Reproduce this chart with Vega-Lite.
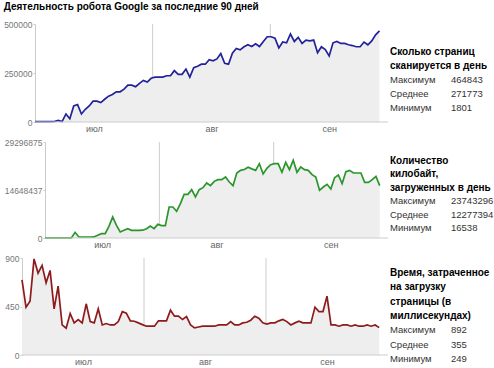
{
  "$schema": "https://vega.github.io/schema/vega-lite/v6.json",
  "background": "white",
  "padding": {"left": 3, "top": 2, "right": 0, "bottom": 0},
  "title": {"text": "Деятельность робота Google за последние 90 дней", "anchor": "start", "fontSize": 10, "fontWeight": "bold", "font": "Liberation Sans", "color": "#000000", "offset": 8},
  "config": {"view": {"stroke": null}, "font": "Liberation Sans"},
  "spacing": {"row": 5, "column": 1},
  "columns": 2,
  "datasets": {
    "crawl": [
      {"day":0,"pages":2400,"kb":16538,"ms":698},
      {"day":1,"pages":2100,"kb":20000,"ms":444},
      {"day":2,"pages":1900,"kb":18000,"ms":500},
      {"day":3,"pages":2200,"kb":22000,"ms":892},
      {"day":4,"pages":1801,"kb":19000,"ms":760},
      {"day":5,"pages":2600,"kb":25000,"ms":832},
      {"day":6,"pages":8000,"kb":21000,"ms":670},
      {"day":7,"pages":2300,"kb":24000,"ms":785},
      {"day":8,"pages":41000,"kb":1729000,"ms":428},
      {"day":9,"pages":17000,"kb":305000,"ms":639},
      {"day":10,"pages":82000,"kb":300000,"ms":279},
      {"day":11,"pages":89000,"kb":310000,"ms":249},
      {"day":12,"pages":41000,"kb":305000,"ms":385},
      {"day":13,"pages":65000,"kb":320000,"ms":298},
      {"day":14,"pages":82000,"kb":814000,"ms":329},
      {"day":15,"pages":106000,"kb":1322000,"ms":298},
      {"day":16,"pages":106000,"kb":1322000,"ms":475},
      {"day":17,"pages":99000,"kb":3560000,"ms":310},
      {"day":18,"pages":116000,"kb":6408000,"ms":298},
      {"day":19,"pages":132000,"kb":3865000,"ms":428},
      {"day":20,"pages":140000,"kb":1831000,"ms":279},
      {"day":21,"pages":154000,"kb":2340000,"ms":292},
      {"day":22,"pages":154000,"kb":2848000,"ms":279},
      {"day":23,"pages":168000,"kb":2340000,"ms":279},
      {"day":24,"pages":188000,"kb":2340000,"ms":310},
      {"day":25,"pages":188000,"kb":2340000,"ms":403},
      {"day":26,"pages":180000,"kb":2380000,"ms":388},
      {"day":27,"pages":197000,"kb":2848000,"ms":317},
      {"day":28,"pages":212000,"kb":3662000,"ms":313},
      {"day":29,"pages":204000,"kb":2848000,"ms":298},
      {"day":30,"pages":223000,"kb":4171000,"ms":282},
      {"day":31,"pages":229000,"kb":3764000,"ms":267},
      {"day":32,"pages":229000,"kb":3764000,"ms":267},
      {"day":33,"pages":229000,"kb":9460000,"ms":267},
      {"day":34,"pages":236000,"kb":9460000,"ms":317},
      {"day":35,"pages":236000,"kb":8138000,"ms":317},
      {"day":36,"pages":262000,"kb":10478000,"ms":317},
      {"day":37,"pages":243000,"kb":13326000,"ms":416},
      {"day":38,"pages":243000,"kb":13326000,"ms":360},
      {"day":39,"pages":270000,"kb":14750000,"ms":360},
      {"day":40,"pages":229000,"kb":12512000,"ms":329},
      {"day":41,"pages":277000,"kb":14750000,"ms":357},
      {"day":42,"pages":284000,"kb":15360000,"ms":279},
      {"day":43,"pages":295000,"kb":16785000,"ms":252},
      {"day":44,"pages":295000,"kb":15971000,"ms":260},
      {"day":45,"pages":318000,"kb":17293000,"ms":267},
      {"day":46,"pages":312000,"kb":17802000,"ms":267},
      {"day":47,"pages":322000,"kb":17802000,"ms":267},
      {"day":48,"pages":349000,"kb":18616000,"ms":267},
      {"day":49,"pages":300000,"kb":17090000,"ms":279},
      {"day":50,"pages":295000,"kb":15971000,"ms":279},
      {"day":51,"pages":351000,"kb":19837000,"ms":279},
      {"day":52,"pages":375000,"kb":20651000,"ms":310},
      {"day":53,"pages":368000,"kb":20900000,"ms":279},
      {"day":54,"pages":384000,"kb":21600000,"ms":279},
      {"day":55,"pages":394000,"kb":21100000,"ms":298},
      {"day":56,"pages":385000,"kb":20651000,"ms":304},
      {"day":57,"pages":399000,"kb":22686000,"ms":323},
      {"day":58,"pages":385000,"kb":19532000,"ms":360},
      {"day":59,"pages":411000,"kb":21261000,"ms":341},
      {"day":60,"pages":435000,"kb":22380000,"ms":298},
      {"day":61,"pages":435000,"kb":22686000,"ms":286},
      {"day":62,"pages":428000,"kb":22686000,"ms":298},
      {"day":63,"pages":378000,"kb":20040000,"ms":298},
      {"day":64,"pages":408000,"kb":23093000,"ms":317},
      {"day":65,"pages":404000,"kb":20855000,"ms":329},
      {"day":66,"pages":449000,"kb":23743296,"ms":310},
      {"day":67,"pages":411000,"kb":20040000,"ms":279},
      {"day":68,"pages":432000,"kb":21668000,"ms":298},
      {"day":69,"pages":401000,"kb":20855000,"ms":313},
      {"day":70,"pages":418000,"kb":20651000,"ms":298},
      {"day":71,"pages":414000,"kb":19328000,"ms":298},
      {"day":72,"pages":418000,"kb":18616000,"ms":298},
      {"day":73,"pages":353000,"kb":14547000,"ms":444},
      {"day":74,"pages":384000,"kb":15564000,"ms":403},
      {"day":75,"pages":370000,"kb":16378000,"ms":403},
      {"day":76,"pages":337000,"kb":14954000,"ms":546},
      {"day":77,"pages":404000,"kb":18412000,"ms":279},
      {"day":78,"pages":411000,"kb":19226000,"ms":279},
      {"day":79,"pages":401000,"kb":16582000,"ms":267},
      {"day":80,"pages":401000,"kb":20244000,"ms":279},
      {"day":81,"pages":394000,"kb":20651000,"ms":279},
      {"day":82,"pages":390000,"kb":19837000,"ms":267},
      {"day":83,"pages":384000,"kb":19837000,"ms":279},
      {"day":84,"pages":384000,"kb":19837000,"ms":267},
      {"day":85,"pages":408000,"kb":16989000,"ms":267},
      {"day":86,"pages":394000,"kb":16989000,"ms":279},
      {"day":87,"pages":414000,"kb":17802000,"ms":267},
      {"day":88,"pages":445000,"kb":18819000,"ms":279},
      {"day":89,"pages":464843,"kb":15971000,"ms":254}
    ],
    "months": [{"day": 30.4}, {"day": 60.8}],
    "period": [{"first": 0, "last": 91.2}],
    "stats1": [
      {"line":0,"col":"label","part":"heading","text":"Сколько страниц"},
      {"line":1,"col":"label","part":"heading","text":"сканируется в день"},
      {"line":2,"col":"label","part":"stat","text":"Максимум"},
      {"line":2,"col":"value","part":"stat","text":"464843"},
      {"line":3,"col":"label","part":"stat","text":"Среднее"},
      {"line":3,"col":"value","part":"stat","text":"271773"},
      {"line":4,"col":"label","part":"stat","text":"Минимум"},
      {"line":4,"col":"value","part":"stat","text":"1801"}
    ],
    "stats2": [
      {"line":0,"col":"label","part":"heading","text":"Количество"},
      {"line":1,"col":"label","part":"heading","text":"килобайт,"},
      {"line":2,"col":"label","part":"heading","text":"загруженных в день"},
      {"line":3,"col":"label","part":"stat","text":"Максимум"},
      {"line":3,"col":"value","part":"stat","text":"23743296"},
      {"line":4,"col":"label","part":"stat","text":"Среднее"},
      {"line":4,"col":"value","part":"stat","text":"12277394"},
      {"line":5,"col":"label","part":"stat","text":"Минимум"},
      {"line":5,"col":"value","part":"stat","text":"16538"}
    ],
    "stats3": [
      {"line":0,"col":"label","part":"heading","text":"Время, затраченное"},
      {"line":1,"col":"label","part":"heading","text":"на загрузку"},
      {"line":2,"col":"label","part":"heading","text":"страницы (в"},
      {"line":3,"col":"label","part":"heading","text":"миллисекундах)"},
      {"line":4,"col":"label","part":"stat","text":"Максимум"},
      {"line":4,"col":"value","part":"stat","text":"892"},
      {"line":5,"col":"label","part":"stat","text":"Среднее"},
      {"line":5,"col":"value","part":"stat","text":"355"},
      {"line":6,"col":"label","part":"stat","text":"Минимум"},
      {"line":6,"col":"value","part":"stat","text":"249"}
    ]
  },
  "concat": [
    {
      "width": 327, "height": 98,
      "data": {"name": "crawl"},
      "encoding": {
        "x": {"field": "day", "type": "quantitative", "scale": {"domain": [6.717, 91.2], "nice": false, "zero": false},
          "axis": {"values": [15.2, 45.6, 76], "labelExpr": "datum.value < 30 ? 'июл' : datum.value < 60 ? 'авг' : 'сен'", "ticks": false, "domain": false, "grid": false, "title": null, "labelColor": "#666666", "labelFontSize": 9, "labelPadding": 2, "labelFlush": false}}
      },
      "layer": [
        {"data": {"name": "months"}, "mark": {"type": "rule", "color": "#cccccc", "strokeWidth": 1}},
        {"mark": {"type": "area", "color": "#eeeeee"},
         "encoding": {"y": {"field": "pages", "type": "quantitative", "scale": {"domain": [0, 500000], "nice": false},
           "axis": {"values": [0, 250000, 500000], "format": "d", "offset": 26, "ticks": true, "tickSize": 2, "tickColor": "#cccccc", "grid": false, "title": null, "domainColor": "#cccccc", "labelColor": "#777777", "labelFontSize": 8.5, "labelPadding": 1, "labelFlush": false}}}},
        {"mark": {"type": "line", "color": "#22229a", "strokeWidth": 1.7},
         "encoding": {"y": {"field": "pages", "type": "quantitative"}}},
        {"data": {"name": "period"}, "mark": {"type": "rule", "color": "#cccccc", "strokeWidth": 1},
         "encoding": {"x": {"field": "first", "type": "quantitative"}, "x2": {"field": "last"}, "y": {"datum": 0, "type": "quantitative"}}}
      ]
    },
    {
      "width": 61, "height": 98,
      "data": {"name": "stats1"},
      "encoding": {
        "x": {"field": "col", "type": "nominal", "scale": {"type": "point", "domain": ["label", "value"], "padding": 0}, "axis": null},
        "y": {"field": "line", "type": "quantitative", "scale": {"domain": [-2, 5], "reverse": true, "nice": false, "zero": false}, "axis": null},
        "text": {"field": "text"}
      },
      "layer": [
        {"transform": [{"filter": "datum.part === 'heading'"}], "mark": {"type": "text", "align": "left", "baseline": "middle", "fontSize": 10, "fontWeight": "bold", "color": "#000000"}},
        {"transform": [{"filter": "datum.part !== 'heading'"}], "mark": {"type": "text", "align": "left", "baseline": "middle", "fontSize": 9.5, "color": "#333333"}}
      ]
    },
    {
      "width": 327, "height": 96,
      "data": {"name": "crawl"},
      "encoding": {
        "x": {"field": "day", "type": "quantitative", "scale": {"domain": [4.254, 91.2], "nice": false, "zero": false},
          "axis": {"values": [15.2, 45.6, 76], "labelExpr": "datum.value < 30 ? 'июл' : datum.value < 60 ? 'авг' : 'сен'", "ticks": false, "domain": false, "grid": false, "title": null, "labelColor": "#666666", "labelFontSize": 9, "labelPadding": 2, "labelFlush": false}}
      },
      "layer": [
        {"data": {"name": "months"}, "mark": {"type": "rule", "color": "#cccccc", "strokeWidth": 1}},
        {"mark": {"type": "area", "color": "#eeeeee"},
         "encoding": {"y": {"field": "kb", "type": "quantitative", "scale": {"domain": [0, 29296875], "nice": false},
           "axis": {"values": [0, 14648437, 29296875], "format": "d", "offset": 16, "ticks": true, "tickSize": 2, "tickColor": "#cccccc", "grid": false, "title": null, "domainColor": "#cccccc", "labelColor": "#777777", "labelFontSize": 8.5, "labelPadding": 1, "labelFlush": false}}}},
        {"mark": {"type": "line", "color": "#2a962a", "strokeWidth": 1.7},
         "encoding": {"y": {"field": "kb", "type": "quantitative"}}},
        {"data": {"name": "period"}, "mark": {"type": "rule", "color": "#cccccc", "strokeWidth": 1},
         "encoding": {"x": {"field": "first", "type": "quantitative"}, "x2": {"field": "last"}, "y": {"datum": 0, "type": "quantitative"}}}
      ]
    },
    {
      "width": 61, "height": 96,
      "data": {"name": "stats2"},
      "encoding": {
        "x": {"field": "col", "type": "nominal", "scale": {"type": "point", "domain": ["label", "value"], "padding": 0}, "axis": null},
        "y": {"field": "line", "type": "quantitative", "scale": {"domain": [-1.42, 5.74], "reverse": true, "nice": false, "zero": false}, "axis": null},
        "text": {"field": "text"}
      },
      "layer": [
        {"transform": [{"filter": "datum.part === 'heading'"}], "mark": {"type": "text", "align": "left", "baseline": "middle", "fontSize": 10, "fontWeight": "bold", "color": "#000000"}},
        {"transform": [{"filter": "datum.part !== 'heading'"}], "mark": {"type": "text", "align": "left", "baseline": "middle", "fontSize": 9.5, "color": "#333333"}}
      ]
    },
    {
      "width": 327, "height": 97,
      "data": {"name": "crawl"},
      "encoding": {
        "x": {"field": "day", "type": "quantitative", "scale": {"domain": [9.718, 91.2], "nice": false, "zero": false},
          "axis": {"values": [15.2, 45.6, 76], "labelExpr": "datum.value < 30 ? 'июл' : datum.value < 60 ? 'авг' : 'сен'", "ticks": false, "domain": false, "grid": false, "title": null, "labelColor": "#666666", "labelFontSize": 9, "labelPadding": 2, "labelFlush": false}}
      },
      "layer": [
        {"data": {"name": "months"}, "mark": {"type": "rule", "color": "#cccccc", "strokeWidth": 1}},
        {"mark": {"type": "area", "color": "#eeeeee"},
         "encoding": {"y": {"field": "ms", "type": "quantitative", "scale": {"domain": [0, 900], "nice": false},
           "axis": {"values": [0, 450, 900], "format": "d", "offset": 39, "ticks": true, "tickSize": 2, "tickColor": "#cccccc", "grid": false, "title": null, "domainColor": "#cccccc", "labelColor": "#777777", "labelFontSize": 8.5, "labelPadding": 1, "labelFlush": false}}}},
        {"mark": {"type": "line", "color": "#8e1b1b", "strokeWidth": 1.7},
         "encoding": {"y": {"field": "ms", "type": "quantitative"}}},
        {"data": {"name": "period"}, "mark": {"type": "rule", "color": "#cccccc", "strokeWidth": 1},
         "encoding": {"x": {"field": "first", "type": "quantitative"}, "x2": {"field": "last"}, "y": {"datum": 0, "type": "quantitative"}}}
      ]
    },
    {
      "width": 61, "height": 97,
      "data": {"name": "stats3"},
      "encoding": {
        "x": {"field": "col", "type": "nominal", "scale": {"type": "point", "domain": ["label", "value"], "padding": 0}, "axis": null},
        "y": {"field": "line", "type": "quantitative", "scale": {"domain": [-1.05, 5.73], "reverse": true, "nice": false, "zero": false}, "axis": null},
        "text": {"field": "text"}
      },
      "layer": [
        {"transform": [{"filter": "datum.part === 'heading'"}], "mark": {"type": "text", "align": "left", "baseline": "middle", "fontSize": 10, "fontWeight": "bold", "color": "#000000"}},
        {"transform": [{"filter": "datum.part !== 'heading'"}], "mark": {"type": "text", "align": "left", "baseline": "middle", "fontSize": 9.5, "color": "#333333"}}
      ]
    }
  ]
}
